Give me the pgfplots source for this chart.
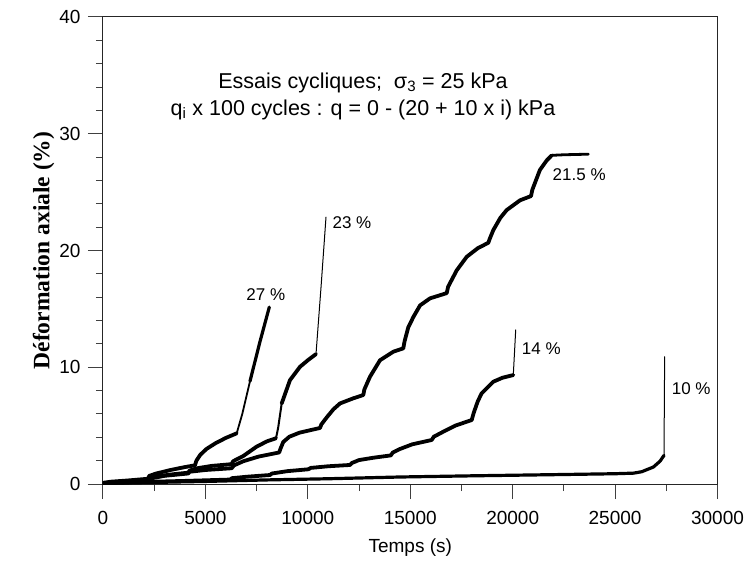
\documentclass[border=0pt]{standalone}
\usepackage{fontspec}
\setmainfont{Liberation Sans}
\newfontfamily\timesfont{Liberation Serif}
\usepackage{pgfplots}
\pgfplotsset{compat=1.18}
\begin{document}
\begin{tikzpicture}
\begin{axis}[
  name=ax,
  scale only axis, width=614.5pt, height=467pt,
  xmin=0, xmax=30000, ymin=0, ymax=40,
  xtick={0,5000,...,30000}, ytick={0,10,...,40},
  minor x tick num=1, minor y tick num=4,
  tick align=outside, tick pos=left,
  major tick length=15pt, minor tick length=7pt,
  scaled x ticks=false,
  /pgf/number format/assume math mode=true,
  /pgf/number format/1000 sep={},
  ticklabel style={font=\fontsize{19}{21}\selectfont},
  xticklabel style={yshift=-9pt},
  yticklabel style={xshift=-4pt},
  axis line style={black!85, line width=1pt},
  every tick/.style={black!75, line width=1pt},
  xlabel={Temps (s)},
  xlabel style={font=\fontsize{19}{21}\selectfont, at={(axis description cs:0.5,-0.137)}, anchor=center},
  ylabel={Déformation axiale (\%)},
  ylabel style={font=\timesfont\bfseries\fontsize{23.5}{25}\selectfont, at={(axis description cs:-0.0968,0.5)}, anchor=center},
  every axis plot/.append style={black, line join=round, line cap=round},
  thick line/.style={line width=3.8pt},
  thin line/.style={line width=1pt},
]

% 27 %
\addplot[thick line] coordinates {
(0,0.1) (400,0.2) (1200,0.3) (2200,0.45) (2260,0.7) (2600,0.9) (3300,1.2)
(4000,1.45) (4490,1.6) (4560,2.0) (4750,2.5) (5050,3.0) (5500,3.5) (6000,3.95) (6527,4.34)};
\addplot[line width=1.8pt] coordinates {(6527,4.34) (6800,6.0) (7176,8.8)};
\addplot[line width=3.2pt] coordinates {(7176,8.8) (7665,12.2) (8119,15.15)};

% 23 %
\addplot[thick line] coordinates {
(0,0.05) (500,0.15) (1500,0.28) (2200,0.35) (2260,0.5) (2800,0.7) (3500,0.85) (4160,0.97)
(4230,1.15) (4600,1.35) (5300,1.55) (6280,1.7) (6350,1.95) (6850,2.4) (7500,3.2) (8000,3.65)
(8446,3.92)};
\addplot[line width=2pt] coordinates {(8446,3.92) (8550,4.8) (8724,6.9)};
\addplot[thick line] coordinates {(8724,6.9) (9129,8.9) (9618,10.04) (10000,10.6) (10399,11.13)};
\addplot[thin line] coordinates {(10399,11.13) (10650,17.0) (10887,22.86)};

% 21.5 %
\addplot[thick line] coordinates {
(0,0.05) (600,0.12) (1500,0.2) (2200,0.28) (2260,0.45) (3000,0.7) (4160,0.9)
(4230,1.05) (5000,1.2) (6280,1.35) (6400,1.6) (6850,1.95) (7600,2.35) (8600,2.7)
(8660,3.0) (8800,3.6) (9100,4.05) (9600,4.4) (10594,4.8)
(10660,5.1) (10920,5.7) (11250,6.4) (11570,6.9) (12220,7.34) (12708,7.62)
(12760,8.1) (13035,9.19) (13523,10.6) (14173,11.33) (14661,11.62)
(14720,12.2) (14900,13.4) (15150,14.3) (15480,15.3) (15964,15.9) (16780,16.35)
(16850,16.9) (17268,18.3) (17756,19.46) (18300,20.2) (18810,20.66)
(18880,21.0) (19055,21.75) (19400,22.8) (19706,23.46) (20360,24.3) (20895,24.66)
(20960,25.2) (21330,26.9) (21656,27.7) (21905,28.15)};
\addplot[line width=2.8pt] coordinates {(21905,28.15) (22500,28.2) (23693,28.25)};

% 14 %
\addplot[thick line] coordinates {
(0,0.05) (1000,0.12) (2100,0.18) (4100,0.27) (6200,0.38) (6300,0.5) (7000,0.62) (8150,0.77)
(8250,0.9) (9000,1.1) (10020,1.26) (10150,1.38) (11000,1.52) (12060,1.63)
(12150,1.8) (12500,2.05) (13200,2.25) (14050,2.45) (14150,2.7) (14500,3.0) (15100,3.4)
(16047,3.77) (16150,4.05) (16613,4.48) (17200,5.0) (18000,5.48)
(18100,6.1) (18300,7.1) (18488,7.77) (19054,8.76) (19500,9.1) (20031,9.33)};
\addplot[thin line] coordinates {(20031,9.33) (20148,13.2)};

% 10 %
\addplot[line width=3.2pt] coordinates {
(0,0.05) (2000,0.12) (5000,0.22) (8000,0.35) (11000,0.45) (14500,0.6) (18000,0.7)
(22000,0.8) (25000,0.88) (25900,0.93) (26300,1.05) (26866,1.45) (27193,1.95) (27388,2.45)};
\addplot[thin line] coordinates {(27388,2.45) (27420,10.9)};

\node[anchor=base, font=\fontsize{21.5}{23}\selectfont] at (axis cs:12693,33.88)
  {Essais cycliques;\ \ σ\textsubscript{3} = 25 kPa};
\node[anchor=base, font=\fontsize{21.5}{23}\selectfont] at (axis cs:12693,31.59)
  {q\textsubscript{i} x 100 cycles : q = 0 - (20 + 10 x i) kPa};

\node[font=\fontsize{17}{19}\selectfont] at (axis cs:7948,16.2) {27 \%};
\node[font=\fontsize{17}{19}\selectfont] at (axis cs:12156,22.4) {23 \%};
\node[font=\fontsize{17}{19}\selectfont] at (axis cs:23248,26.46) {21.5 \%};
\node[font=\fontsize{17}{19}\selectfont] at (axis cs:21398,11.62) {14 \%};
\node[font=\fontsize{17}{19}\selectfont] at (axis cs:28716,8.16) {10 \%};
\end{axis}
\pgfresetboundingbox
\path[use as bounding box] ([xshift=-103pt,yshift=-76pt]ax.south west) rectangle ([xshift=29.5pt,yshift=17pt]ax.north east);
\end{tikzpicture}
\end{document}
